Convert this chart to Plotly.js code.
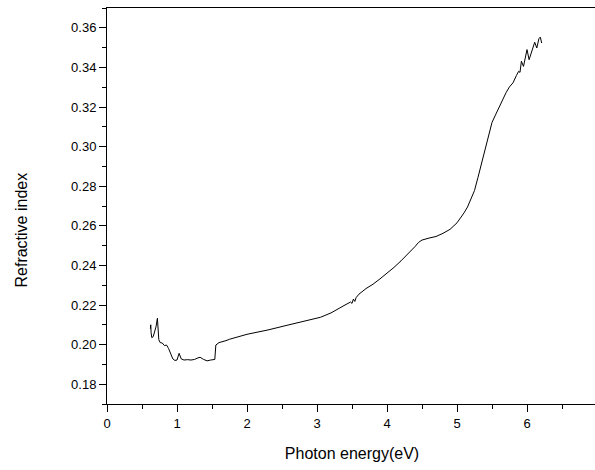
<!DOCTYPE html>
<html>
<head>
<meta charset="utf-8">
<script src="https://cdn.plot.ly/plotly-3.0.1.min.js"></script>
<style>
  html, body { margin: 0; padding: 0; overflow: hidden; background: #fff; }
  #chart { width: 600px; height: 470px; }
</style>
</head>
<body>
<div id="chart"></div>
<script>
// Photon energy (eV)
const energy = [0.62,0.625,0.63,0.64,0.66,0.68,0.70,0.72,0.73,0.74,0.76,0.79,0.82,0.85,0.88,0.91,0.94,0.97,1.00,1.03,1.06,1.10,1.15,1.20,1.25,1.30,1.33,1.38,1.43,1.48,1.52,1.54,1.555,1.60,1.70,1.75,2.0,2.3,2.6,2.9,3.05,3.2,3.3,3.4,3.48,3.50,3.52,3.54,3.56,3.6,3.7,3.8,3.9,4.0,4.1,4.2,4.3,4.4,4.45,4.5,4.6,4.7,4.8,4.9,5.0,5.05,5.1,5.15,5.2,5.25,5.3,5.35,5.4,5.45,5.5,5.55,5.6,5.65,5.7,5.75,5.8,5.85,5.88,5.9,5.92,5.95,6.0,6.03,6.07,6.11,6.14,6.17,6.19,6.21];
// Refractive index
const refIndex = [0.208,0.210,0.206,0.2035,0.204,0.206,0.209,0.2133,0.206,0.2025,0.201,0.2008,0.1995,0.1998,0.198,0.1956,0.1928,0.192,0.1922,0.1956,0.1928,0.1922,0.1924,0.1922,0.1925,0.1933,0.1936,0.1925,0.1918,0.1922,0.1926,0.1925,0.1998,0.201,0.202,0.2027,0.2052,0.2074,0.210,0.2125,0.2138,0.216,0.2178,0.220,0.2215,0.2208,0.223,0.2218,0.2238,0.2255,0.2283,0.2305,0.2332,0.236,0.239,0.2423,0.2457,0.2495,0.2516,0.2528,0.2538,0.2546,0.2562,0.2582,0.2615,0.2638,0.2665,0.2695,0.274,0.2778,0.2845,0.2915,0.2985,0.3055,0.3122,0.316,0.3198,0.3235,0.3272,0.3302,0.3322,0.336,0.338,0.3375,0.3431,0.3405,0.349,0.3439,0.348,0.3527,0.3498,0.3545,0.3553,0.3523];

const xTitle = "Photon energy(eV)";
const yTitle = "Refractive index";

const trace = {
  x: energy,
  y: refIndex,
  type: "scatter",
  mode: "lines",
  line: { color: "#000", width: 1 },
  hoverinfo: "skip"
};

const fontFamily = "Liberation Sans, Arial, sans-serif";

const layout = {
  width: 600,
  height: 470,
  margin: { l: 107, r: 3, t: 8, b: 66 },
  paper_bgcolor: "#fff",
  plot_bgcolor: "#fff",
  showlegend: false,
  font: { family: fontFamily, size: 13, color: "#000" },
  xaxis: {
    range: [0, 7],
    dtick: 1,
    tick0: 0,
    ticks: "outside",
    ticklen: 7,
    tickwidth: 1,
    tickcolor: "#000",
    showline: true,
    linecolor: "#000",
    linewidth: 1,
    mirror: true,
    showgrid: false,
    zeroline: false,
    tickfont: { family: fontFamily, size: 13, color: "#000" },
    minor: { dtick: 0.5, ticks: "outside", ticklen: 4, tickcolor: "#000", showgrid: false },
    title: { text: xTitle, font: { family: fontFamily, size: 16, color: "#000" }, standoff: 18 }
  },
  yaxis: {
    range: [0.17, 0.37],
    dtick: 0.02,
    tick0: 0.18,
    tickformat: ".2f",
    ticks: "outside",
    ticklen: 7,
    tickwidth: 1,
    tickcolor: "#000",
    showline: true,
    linecolor: "#000",
    linewidth: 1,
    mirror: true,
    showgrid: false,
    zeroline: false,
    tickfont: { family: fontFamily, size: 13, color: "#000" },
    minor: { dtick: 0.01, ticks: "outside", ticklen: 4, tickcolor: "#000", showgrid: false }
  },
  annotations: [{
    text: yTitle,
    xref: "paper", yref: "paper",
    x: -0.174, y: 0.44,
    xanchor: "center", yanchor: "middle",
    textangle: -90,
    showarrow: false,
    font: { family: fontFamily, size: 16, color: "#000" }
  }]
};

Plotly.newPlot("chart", [trace], layout, { displayModeBar: false, staticPlot: true });
</script>
</body>
</html>
